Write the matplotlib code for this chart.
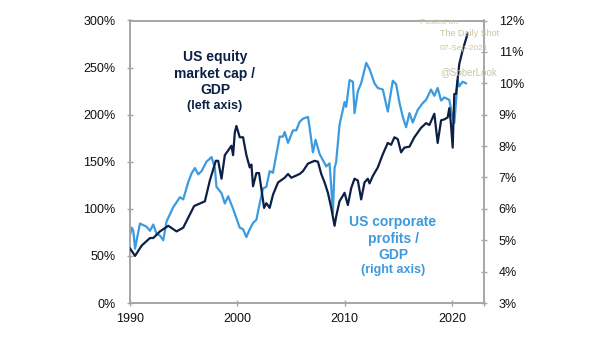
import numpy as np
import matplotlib.pyplot as plt
from matplotlib.ticker import FuncFormatter

plt.rcParams['font.family'] = ['Liberation Sans', 'DejaVu Sans']

# US equity market cap / GDP (left axis, %)
cap_years = [1990.0, 1990.47, 1991.09, 1991.86, 1992.17, 1992.79, 1993.57, 1994.34, 1994.96,
             1995.98, 1996.98, 1997.44, 1998.0, 1998.22, 1998.53, 1998.84, 1999.46, 1999.61,
             1999.77, 1999.92, 2000.23, 2000.54, 2000.85, 2001.16, 2001.32, 2001.47, 2001.78,
             2002.03, 2002.25, 2002.5, 2002.71, 2003.02, 2003.33, 2003.8, 2004.42, 2004.73,
             2005.04, 2005.81, 2006.12, 2006.59, 2007.21, 2007.52, 2007.83, 2008.14, 2008.45,
             2008.76, 2009.07, 2009.22, 2009.53, 2010.0, 2010.31, 2010.62, 2010.93, 2011.24,
             2011.55, 2011.86, 2012.17, 2012.33, 2012.64, 2013.1, 2013.57, 2014.03, 2014.34,
             2014.65, 2014.96, 2015.27, 2015.58, 2016.05, 2016.51, 2017.13, 2017.6, 2017.91,
             2018.37, 2018.68, 2019.0, 2019.3, 2019.61, 2019.77, 2019.92, 2020.08, 2020.23,
             2020.39, 2020.7, 2021.0, 2021.47]
cap_vals = [58, 50, 61, 69, 69, 76, 82, 76, 80,
            103, 108, 130, 151, 151, 132, 157, 167, 157,
            181, 188, 176, 176, 157, 144, 147, 124, 138,
            138, 121, 101, 106, 101, 115, 128, 133, 137,
            133, 137, 140, 148, 151, 150, 137, 128, 117,
            101, 82, 92, 108, 117, 104, 122, 132, 130,
            110, 128, 132, 127, 135, 144, 158, 170, 168,
            176, 174, 160, 165, 166, 176, 186, 191, 189,
            201, 170, 194, 195, 197, 207, 190, 165, 222,
            222, 254, 268, 286]

# US corporate profits / GDP (right axis, %)
prof_years = [1990.0, 1990.16, 1990.31, 1990.47, 1990.62, 1990.93, 1991.55, 1991.86, 1992.17,
              1992.48, 1992.79, 1993.1, 1993.41, 1994.03, 1994.65, 1994.96, 1995.43, 1995.74,
              1996.05, 1996.36, 1996.67, 1997.13, 1997.6, 1997.91, 1998.06, 1998.53, 1998.84,
              1999.15, 1999.61, 2000.23, 2000.54, 2000.85, 2001.16, 2001.47, 2001.78, 2002.09,
              2002.4, 2002.71, 2003.02, 2003.33, 2003.95, 2004.26, 2004.42, 2004.73, 2005.19,
              2005.5, 2005.81, 2006.12, 2006.59, 2006.74, 2007.05, 2007.3, 2007.67, 2008.14,
              2008.29, 2008.6, 2008.76, 2008.91, 2009.07, 2009.22, 2009.53, 2010.0, 2010.15,
              2010.47, 2010.78, 2010.93, 2011.24, 2011.55, 2012.02, 2012.33, 2012.79, 2013.1,
              2013.57, 2014.03, 2014.5, 2014.81, 2015.12, 2015.43, 2015.74, 2016.05, 2016.36,
              2016.82, 2017.29, 2017.6, 2018.06, 2018.37, 2018.68, 2019.0, 2019.3, 2019.77,
              2020.02, 2020.23, 2020.39, 2020.54, 2020.7, 2021.0, 2021.32]
prof_vals = [5.15, 5.4, 5.3, 4.73, 5.0, 5.53, 5.43, 5.3, 5.5,
             5.2, 5.15, 5.0, 5.6, 6.05, 6.37, 6.3, 6.85, 7.13,
             7.3, 7.1, 7.2, 7.5, 7.65, 7.3, 6.7, 6.5, 6.17,
             6.4, 6.0, 5.4, 5.35, 5.1, 5.35, 5.55, 5.65, 6.17,
             6.65, 6.7, 7.2, 7.15, 8.3, 8.3, 8.45, 8.1, 8.5,
             8.5, 8.77, 8.87, 8.93, 8.6, 7.8, 8.2, 7.75, 7.45,
             7.35, 7.45, 6.7, 5.85, 7.3, 7.5, 8.67, 9.4, 9.25,
             10.1, 10.05, 9.05, 9.75, 10.0, 10.65, 10.45, 10.0, 9.85,
             9.8, 9.1, 10.08, 9.97, 9.38, 8.93, 8.6, 9.05, 8.75,
             9.15, 9.37, 9.47, 9.8, 9.6, 9.85, 9.45, 9.55, 9.47,
             9.0, 8.73, 9.4, 10.1, 9.9, 10.05, 10.0]

navy = '#0d1f45'
blue = '#3c9be0'
grey = '#a6a6a6'

fig = plt.figure(figsize=(6.05, 3.41), dpi=100)
ax = fig.add_axes([130 / 605, 1 - 303 / 341, 354 / 605, 282.5 / 341])
ax2 = ax.twinx()

ax.plot(cap_years, cap_vals, color=navy, lw=1.6, zorder=3)
ax2.plot(prof_years, prof_vals, color=blue, lw=1.6, zorder=2)
ax.set_zorder(ax2.get_zorder() + 1)
ax.patch.set_visible(False)

ax.set_xlim(1990, 2023)
ax.set_ylim(0, 300)
ax2.set_ylim(3, 12)
ax.set_xticks([1990, 2000, 2010, 2020, 2023])
ax.set_xticklabels(['1990', '2000', '2010', '2020', ''])
ax.set_yticks(np.arange(0, 301, 50))
ax2.set_yticks(np.arange(3, 13, 1))
ax.yaxis.set_major_formatter(FuncFormatter(lambda v, p: '%d%%' % v))
ax2.yaxis.set_major_formatter(FuncFormatter(lambda v, p: '%d%%' % v))

for a in (ax, ax2):
    for s in a.spines.values():
        s.set_color(grey)
        s.set_linewidth(1.2)
    a.tick_params(direction='inout', length=5, width=1, color=grey,
                  labelsize=9, labelcolor='#111111')
ax.tick_params(axis='y', pad=8)
ax.tick_params(axis='x', pad=5)
ax2.tick_params(axis='y', pad=8)

def px(x, y):
    return x / 605, 1 - y / 341

for txt, y, fs in [('US equity', 57, 10), ('market cap /', 74, 10),
                   ('GDP', 90, 10), ('(left axis)', 106, 9)]:
    fig.text(*px(215, y), txt, color=navy, fontsize=fs, fontweight='bold',
             ha='center', va='center')

for txt, y, fs in [('US corporate', 222, 10), ('profits /', 239, 10),
                   ('GDP', 255, 10), ('(right axis)', 270, 9)]:
    fig.text(*px(393, y), txt, color=blue, fontsize=fs, fontweight='bold',
             ha='center', va='center')

wm = '#c9c6a2'
fig.text(*px(420, 22), 'Posted on', color=wm, fontsize=6, ha='left', va='center')
fig.text(*px(440, 34), 'The Daily Shot', color=wm, fontsize=6.5, ha='left', va='center')
fig.text(*px(440, 49), '07-Sep-2021', color=wm, fontsize=6, ha='left', va='center')
fig.text(*px(440, 72), '@SoberLook', color=wm, fontsize=7, ha='left', va='center')

fig.savefig('out.png', dpi=100)
